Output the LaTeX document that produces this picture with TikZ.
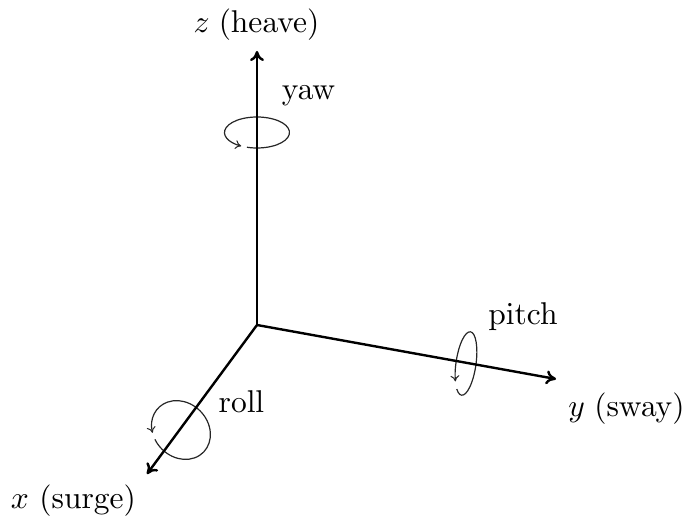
\documentclass[tikz,border=0pt]{standalone}
\usetikzlibrary{arrows.meta}
\font\lblrm=cmr10 at 31.5pt
\font\lblmi=cmmi10 at 31.5pt
\tikzset{
  axisline/.style={line width=2.4pt,-{Computer Modern Rightarrow[length=10pt,width=14pt,line width=2.4pt]}},
  turnline/.style={line width=1.2pt,-{Computer Modern Rightarrow[length=6pt,width=9pt,line width=1pt]},black!85},
  lbl/.style={inner sep=0pt,font=\lblrm,text=black}
}
\begin{document}
\begin{tikzpicture}[x=1pt,y=-1pt]
\useasboundingbox (0,0) rectangle (686,521);
\coordinate (o) at (257,325);
\node[lbl] (zlabel) at (256.5,25) {{\lblmi z} (heave)};
\node[lbl] (ylabel) at (626.5,408.5) {{\lblmi y} (sway)};
\node[lbl] (xlabel) at (73.5,500.5) {{\lblmi x} (surge)};
\node[lbl] (yawlabel) at (308.5,96) {yaw};
\node[lbl] (pitchlabel) at (523,317) {pitch};
\node[lbl] (rolllabel) at (241.5,402) {roll};
\coordinate (zend) at (257,51);
\coordinate (yend) at (556,379);
\coordinate (xend) at (147,474);
\draw[turnline,shift={(257,132.5)}] (108:32.5 and 15.5) arc[start angle=108,end angle=-241,x radius=32.5,y radius=15.5];
\draw[turnline,shift={(181,430)},rotate=-45] (112:31.6 and 27) arc[start angle=112,end angle=-235,x radius=31.6,y radius=27];
\draw[turnline,shift={(466,363.5)},rotate=82] (214:32 and 10) arc[start angle=214,end angle=-127,x radius=32,y radius=10];
\draw[axisline] (o) -- (zend);
\draw[axisline] (o) -- (yend);
\draw[axisline] (o) -- (xend);
\end{tikzpicture}
\end{document}
